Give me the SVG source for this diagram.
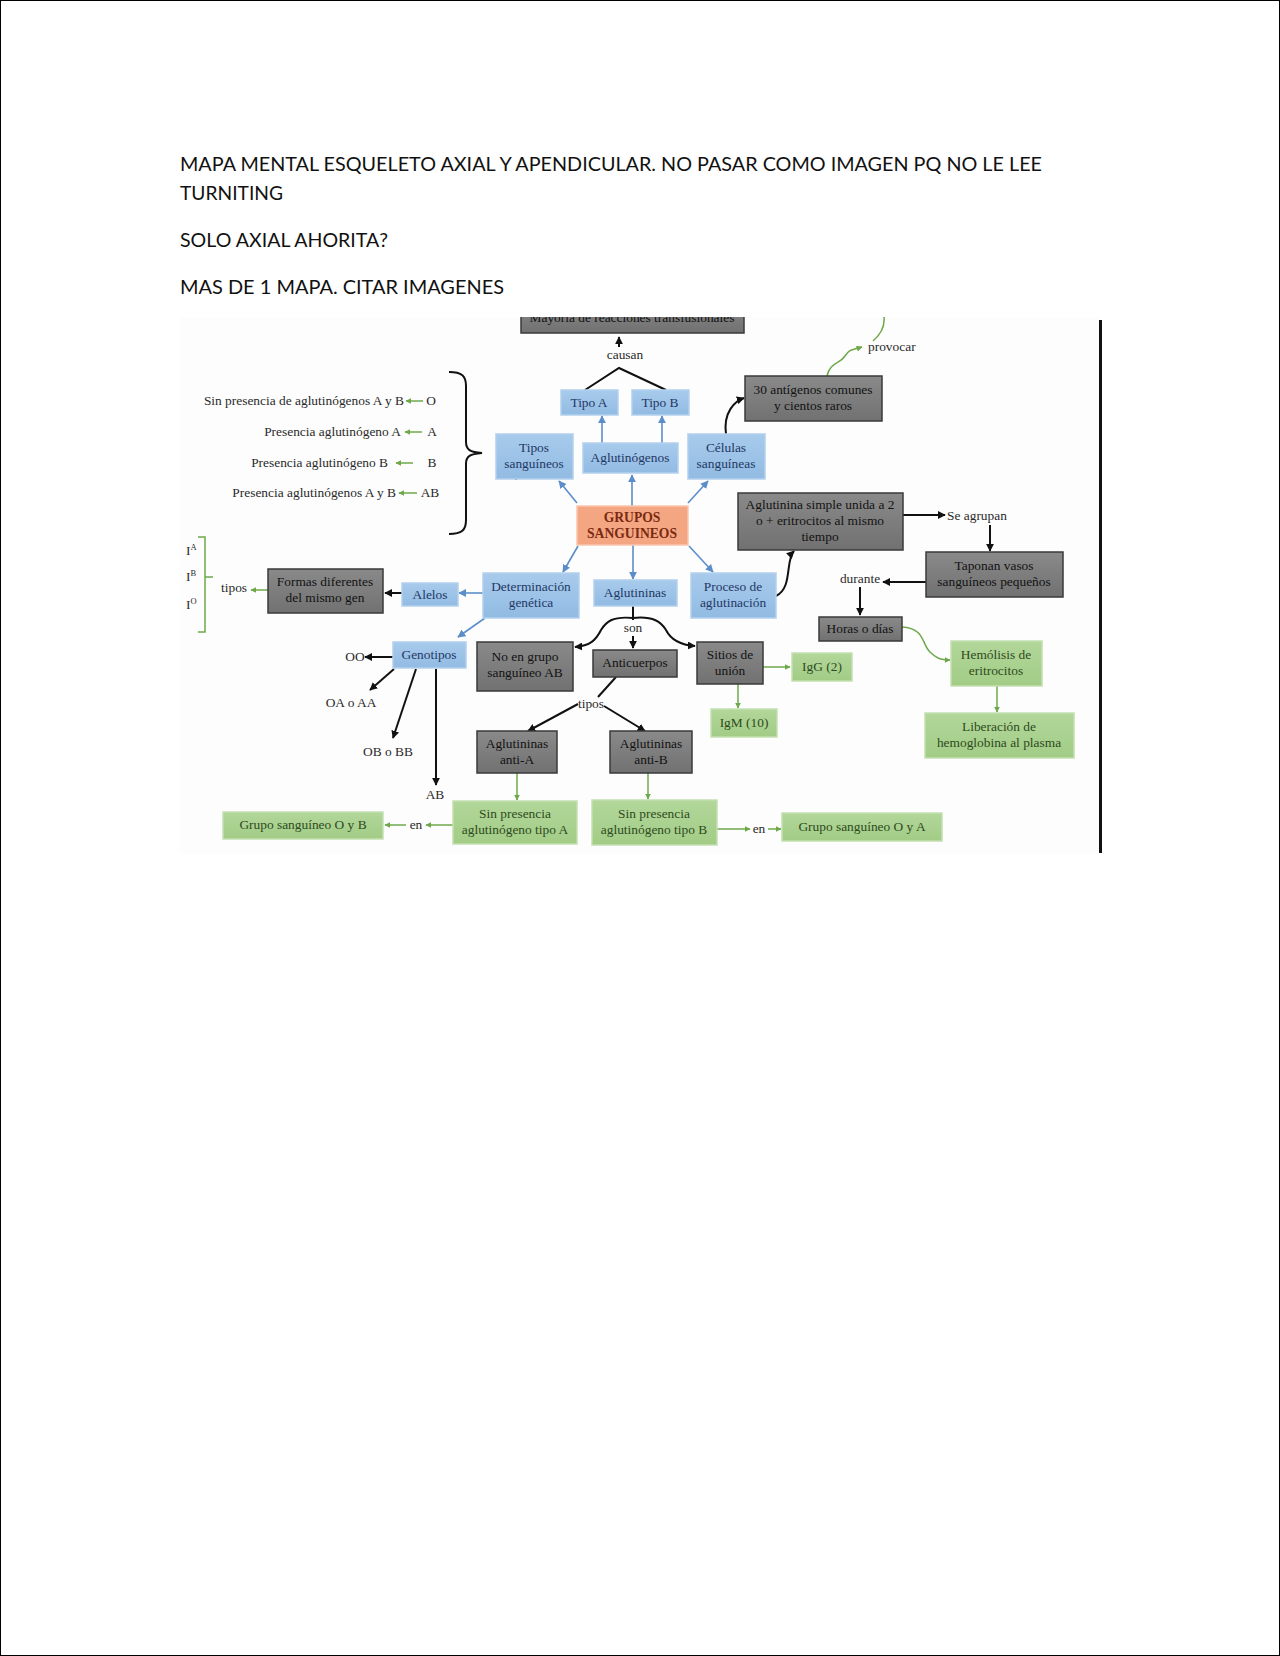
<svg xmlns="http://www.w3.org/2000/svg" width="1280" height="1656" viewBox="0 0 1280 1656">
<style>
.hdr{font-family:Lato,"Open Sans","Liberation Sans",sans-serif;font-size:20px;fill:#111}
.t{font-family:"Liberation Serif","DejaVu Serif",serif;font-size:13.4px;text-anchor:middle}
.lbl{font-family:"Liberation Serif","DejaVu Serif",serif;font-size:13.4px;fill:#2a2a2a}
.blue rect{fill:url(#gBlue);stroke:#b3d0ee;stroke-width:1.5}
.blue text{fill:#1f3864}
.gray rect{fill:url(#gGray);stroke:#3a3a3a;stroke-width:1.5}
.gray text{fill:#121212}
.green rect{fill:url(#gGreen);stroke:#c3dfb0;stroke-width:1.5}
.green text{fill:#2e4a20}
.orange rect{fill:#f4a582;stroke:#f9c6ad;stroke-width:1.5}
.orange text{fill:#7a2a10;font-weight:bold;font-size:13.6px}
.cb{fill:none;stroke:#111;stroke-width:2}
.cbl{fill:none;stroke:#5b8ec9;stroke-width:1.6}
.cg{fill:none;stroke:#6fa84a;stroke-width:1.5}
</style>
<defs>
<linearGradient id="gBlue" x1="0" y1="0" x2="0" y2="1"><stop offset="0" stop-color="#a8cbec"/><stop offset="1" stop-color="#92bbe3"/></linearGradient>
<linearGradient id="gGray" x1="0" y1="0" x2="0" y2="1"><stop offset="0" stop-color="#8a8a8a"/><stop offset="1" stop-color="#717171"/></linearGradient>
<linearGradient id="gGreen" x1="0" y1="0" x2="0" y2="1"><stop offset="0" stop-color="#b2d79a"/><stop offset="1" stop-color="#a2cc86"/></linearGradient>
<marker id="aB" viewBox="0 0 10 10" refX="9" refY="5" markerWidth="4" markerHeight="4" orient="auto"><path d="M0,0 L10,5 L0,10 z" fill="#111"/></marker>
<marker id="aBl" viewBox="0 0 10 10" refX="9" refY="5" markerWidth="5" markerHeight="5" orient="auto"><path d="M0,0 L10,5 L0,10 z" fill="#5b8ec9"/></marker>
<marker id="aG" viewBox="0 0 10 10" refX="9" refY="5" markerWidth="4" markerHeight="4" orient="auto"><path d="M0,0 L10,5 L0,10 z" fill="#6fa84a"/></marker>
<clipPath id="imgClip"><rect x="180" y="317" width="924" height="537"/></clipPath>
</defs>

<rect x="0.5" y="0.5" width="1279" height="1655" fill="#fff" stroke="#000" stroke-width="1"/>

<g id="header">
<text class="hdr" x="180" y="171" textLength="862" lengthAdjust="spacingAndGlyphs">MAPA MENTAL ESQUELETO AXIAL Y APENDICULAR. NO PASAR COMO IMAGEN PQ NO LE LEE</text>
<text class="hdr" x="180" y="200" textLength="103" lengthAdjust="spacingAndGlyphs">TURNITING</text>
<text class="hdr" x="180" y="247" textLength="208" lengthAdjust="spacingAndGlyphs">SOLO AXIAL AHORITA?</text>
<text class="hdr" x="180" y="294" textLength="324" lengthAdjust="spacingAndGlyphs">MAS DE 1 MAPA. CITAR IMAGENES</text>
</g>

<g id="map" clip-path="url(#imgClip)">
<rect x="180" y="317" width="920" height="537" fill="#fdfdfd"/>
<rect x="1099" y="320" width="3" height="533" fill="#111"/>

<g id="connectors">
<path class="cb" d="M619,347 L619,337" marker-end="url(#aB)"/>
<path class="cb" d="M585,390 L619,368 L666,390"/>
<path class="cb" d="M726,434 C723,412 735,401 744,398" marker-end="url(#aB)"/>
<path class="cb" d="M903,515 L945,515" marker-end="url(#aB)"/>
<path class="cb" d="M990,525 L990,551" marker-end="url(#aB)"/>
<path class="cb" d="M926,582 L883,582" marker-end="url(#aB)"/>
<path class="cb" d="M860,587 L860,615" marker-end="url(#aB)"/>
<path class="cb" d="M776,596 C793,588 785,560 794,551" marker-end="url(#aB)"/>
<path class="cb" d="M402,593 L385,593" marker-end="url(#aB)"/>
<path class="cb" d="M393,657 L365,657" marker-end="url(#aB)"/>
<path class="cb" d="M394,669 L370,690" marker-end="url(#aB)"/>
<path class="cb" d="M416,669 L393,738" marker-end="url(#aB)"/>
<path class="cb" d="M436,669 L436,785" marker-end="url(#aB)"/>
<path class="cb" d="M633,606 L633,620"/>
<path class="cb" d="M633,636 L633,648" marker-end="url(#aB)"/>
<path class="cb" d="M633,618 C612,616 606,622 601,630 C596,640 590,646 575,647" marker-end="url(#aB)"/>
<path class="cb" d="M633,618 C654,616 661,622 666,630 C671,640 680,645 695,646" marker-end="url(#aB)"/>
<path class="cb" d="M616,677 L598,697"/>
<path class="cb" d="M578,704 L528,731" marker-end="url(#aB)"/>
<path class="cb" d="M604,706 L645,731" marker-end="url(#aB)"/>

<path class="cbl" d="M577,503 L559,481" marker-end="url(#aBl)"/>
<path class="cbl" d="M632,506 L632,475" marker-end="url(#aBl)"/>
<path class="cbl" d="M688,503 L708,481" marker-end="url(#aBl)"/>
<path class="cbl" d="M602,443 L602,416" marker-end="url(#aBl)"/>
<path class="cbl" d="M662,443 L662,416" marker-end="url(#aBl)"/>
<path class="cbl" d="M578,546 L563,572" marker-end="url(#aBl)"/>
<path class="cbl" d="M633,545 L633,579" marker-end="url(#aBl)"/>
<path class="cbl" d="M689,546 L713,572" marker-end="url(#aBl)"/>
<path class="cbl" d="M483,593 L459,593" marker-end="url(#aBl)"/>
<path class="cbl" d="M485,618 L458,637" marker-end="url(#aBl)"/>

<path class="cg" d="M423,401 L406,401" marker-end="url(#aG)"/>
<path class="cg" d="M422,432 L405,432" marker-end="url(#aG)"/>
<path class="cg" d="M413,463 L396,463" marker-end="url(#aG)"/>
<path class="cg" d="M417,493 L399,493" marker-end="url(#aG)"/>
<path class="cg" d="M268,590 L251,590" marker-end="url(#aG)"/>
<path class="cg" d="M198,537 L205,537 L205,632 L198,632 M205,577 L213,577"/>
<path class="cg" d="M827,376 C830,362 840,364 845,356 C850,348 853,350 862,347" marker-end="url(#aG)"/>
<path class="cg" d="M884,317 C885,326 881,334 873,341"/>
<path class="cg" d="M902,627 C925,628 922,645 930,652 C936,658 940,660 950,660" marker-end="url(#aG)"/>
<path class="cg" d="M997,686 L997,712" marker-end="url(#aG)"/>
<path class="cg" d="M763,667 L790,667" marker-end="url(#aG)"/>
<path class="cg" d="M738,684 L738,708" marker-end="url(#aG)"/>
<path class="cg" d="M517,773 L517,800" marker-end="url(#aG)"/>
<path class="cg" d="M648,773 L648,799" marker-end="url(#aG)"/>
<path class="cg" d="M453,825 L426,825" marker-end="url(#aG)"/>
<path class="cg" d="M406,825 L385,825" marker-end="url(#aG)"/>
<path class="cg" d="M717,829 L750,829" marker-end="url(#aG)"/>
<path class="cg" d="M768,829 L781,829" marker-end="url(#aG)"/>
<path d="M516,471 L516,480" stroke="#111" stroke-width="1.2"/>
<path d="M449,372 C462,372 466,376 466,386 L466,442 C466,450 470,452 482,453 C470,454 466,456 466,464 L466,520 C466,530 462,534 449,534" fill="none" stroke="#111" stroke-width="2"/>
</g>

<g id="labels">
<text class="lbl" x="625" y="359" text-anchor="middle">causan</text>
<text class="lbl" x="868" y="351">provocar</text>
<text class="lbl" x="404" y="405" text-anchor="end">Sin presencia de aglutinógenos A y B</text>
<text class="lbl" x="431" y="405" text-anchor="middle">O</text>
<text class="lbl" x="401" y="436" text-anchor="end">Presencia aglutinógeno A</text>
<text class="lbl" x="432" y="436" text-anchor="middle">A</text>
<text class="lbl" x="388" y="467" text-anchor="end">Presencia aglutinógeno B</text>
<text class="lbl" x="432" y="467" text-anchor="middle">B</text>
<text class="lbl" x="396" y="497" text-anchor="end">Presencia aglutinógenos A y B</text>
<text class="lbl" x="430" y="497" text-anchor="middle">AB</text>
<text class="lbl" x="186" y="555">I<tspan font-size="8.5" dy="-5">A</tspan></text>
<text class="lbl" x="186" y="581">I<tspan font-size="8.5" dy="-5">B</tspan></text>
<text class="lbl" x="186" y="609">I<tspan font-size="8.5" dy="-5">O</tspan></text>
<text class="lbl" x="221" y="592">tipos</text>
<text class="lbl" x="947" y="520">Se agrupan</text>
<text class="lbl" x="860" y="583" text-anchor="middle">durante</text>
<text class="lbl" x="355" y="661" text-anchor="middle">OO</text>
<text class="lbl" x="351" y="707" text-anchor="middle">OA o AA</text>
<text class="lbl" x="388" y="756" text-anchor="middle">OB o BB</text>
<text class="lbl" x="435" y="799" text-anchor="middle">AB</text>
<text class="lbl" x="633" y="632" text-anchor="middle">son</text>
<text class="lbl" x="591" y="708" text-anchor="middle">tipos</text>
<text class="lbl" x="416" y="829" text-anchor="middle">en</text>
<text class="lbl" x="759" y="833" text-anchor="middle">en</text>
</g>

<g id="mayoria" class="gray"><rect x="521" y="300" width="223" height="33"/><text class="t" x="632" y="322">Mayoría de reacciones transfusionales</text></g>
<g id="tipoA" class="blue"><rect x="561" y="390" width="57" height="25"/><text class="t" x="589" y="407">Tipo A</text></g>
<g id="tipoB" class="blue"><rect x="632" y="390" width="57" height="25"/><text class="t" x="660" y="407">Tipo B</text></g>
<g id="tiposSanguineos" class="blue"><rect x="496" y="434" width="77" height="45"/><text class="t" x="534" y="452">Tipos</text><text class="t" x="534" y="468">sanguíneos</text></g>
<g id="aglutinogenos" class="blue"><rect x="583" y="443" width="95" height="30"/><text class="t" x="630" y="462">Aglutinógenos</text></g>
<g id="celulas" class="blue"><rect x="688" y="434" width="77" height="45"/><text class="t" x="726" y="452">Células</text><text class="t" x="726" y="468">sanguíneas</text></g>
<g id="antigenos" class="gray"><rect x="745" y="376" width="137" height="45"/><text class="t" x="813" y="394">30 antígenos comunes</text><text class="t" x="813" y="410">y cientos raros</text></g>
<g id="grupos" class="orange"><rect x="577" y="506" width="111" height="39"/><text class="t" x="632" y="522">GRUPOS</text><text class="t" x="632" y="538">SANGUINEOS</text></g>
<g id="aglutininaSimple" class="gray"><rect x="738" y="493" width="165" height="57"/><text class="t" x="820" y="509">Aglutinina simple unida a 2</text><text class="t" x="820" y="525">o + eritrocitos al mismo</text><text class="t" x="820" y="541">tiempo</text></g>
<g id="taponan" class="gray"><rect x="926" y="552" width="137" height="45"/><text class="t" x="994" y="570">Taponan vasos</text><text class="t" x="994" y="586">sanguíneos pequeños</text></g>
<g id="formas" class="gray"><rect x="268" y="569" width="115" height="44"/><text class="t" x="325" y="586">Formas diferentes</text><text class="t" x="325" y="602">del mismo gen</text></g>
<g id="alelos" class="blue"><rect x="402" y="583" width="56" height="23"/><text class="t" x="430" y="599">Alelos</text></g>
<g id="determinacion" class="blue"><rect x="483" y="573" width="96" height="45"/><text class="t" x="531" y="591">Determinación</text><text class="t" x="531" y="607">genética</text></g>
<g id="aglutininas" class="blue"><rect x="594" y="580" width="83" height="26"/><text class="t" x="635" y="597">Aglutininas</text></g>
<g id="proceso" class="blue"><rect x="691" y="573" width="85" height="45"/><text class="t" x="733" y="591">Proceso de</text><text class="t" x="733" y="607">aglutinación</text></g>
<g id="horas" class="gray"><rect x="819" y="617" width="83" height="24"/><text class="t" x="860" y="633">Horas o días</text></g>
<g id="genotipos" class="blue"><rect x="393" y="642" width="73" height="26"/><text class="t" x="429" y="659">Genotipos</text></g>
<g id="noEnGrupo" class="gray"><rect x="477" y="642" width="96" height="49"/><text class="t" x="525" y="661">No en grupo</text><text class="t" x="525" y="677">sanguíneo AB</text></g>
<g id="anticuerpos" class="gray"><rect x="593" y="650" width="84" height="27"/><text class="t" x="635" y="667">Anticuerpos</text></g>
<g id="sitios" class="gray"><rect x="697" y="642" width="66" height="42"/><text class="t" x="730" y="659">Sitios de</text><text class="t" x="730" y="675">unión</text></g>
<g id="igg" class="green"><rect x="792" y="653" width="60" height="28"/><text class="t" x="822" y="671">IgG (2)</text></g>
<g id="hemolisis" class="green"><rect x="951" y="641" width="91" height="45"/><text class="t" x="996" y="659">Hemólisis de</text><text class="t" x="996" y="675">eritrocitos</text></g>
<g id="igm" class="green"><rect x="711" y="709" width="66" height="28"/><text class="t" x="744" y="727">IgM (10)</text></g>
<g id="liberacion" class="green"><rect x="925" y="713" width="149" height="45"/><text class="t" x="999" y="731">Liberación de</text><text class="t" x="999" y="747">hemoglobina al plasma</text></g>
<g id="antiA" class="gray"><rect x="477" y="731" width="80" height="42"/><text class="t" x="517" y="748">Aglutininas</text><text class="t" x="517" y="764">anti-A</text></g>
<g id="antiB" class="gray"><rect x="610" y="731" width="82" height="42"/><text class="t" x="651" y="748">Aglutininas</text><text class="t" x="651" y="764">anti-B</text></g>
<g id="sinA" class="green"><rect x="453" y="801" width="124" height="43"/><text class="t" x="515" y="818">Sin presencia</text><text class="t" x="515" y="834">aglutinógeno tipo A</text></g>
<g id="sinB" class="green"><rect x="592" y="800" width="125" height="45"/><text class="t" x="654" y="818">Sin presencia</text><text class="t" x="654" y="834">aglutinógeno tipo B</text></g>
<g id="grupoOB" class="green"><rect x="223" y="812" width="160" height="27"/><text class="t" x="303" y="829">Grupo sanguíneo O y B</text></g>
<g id="grupoOA" class="green"><rect x="782" y="813" width="160" height="28"/><text class="t" x="862" y="831">Grupo sanguíneo O y A</text></g>
</g>
</svg>
